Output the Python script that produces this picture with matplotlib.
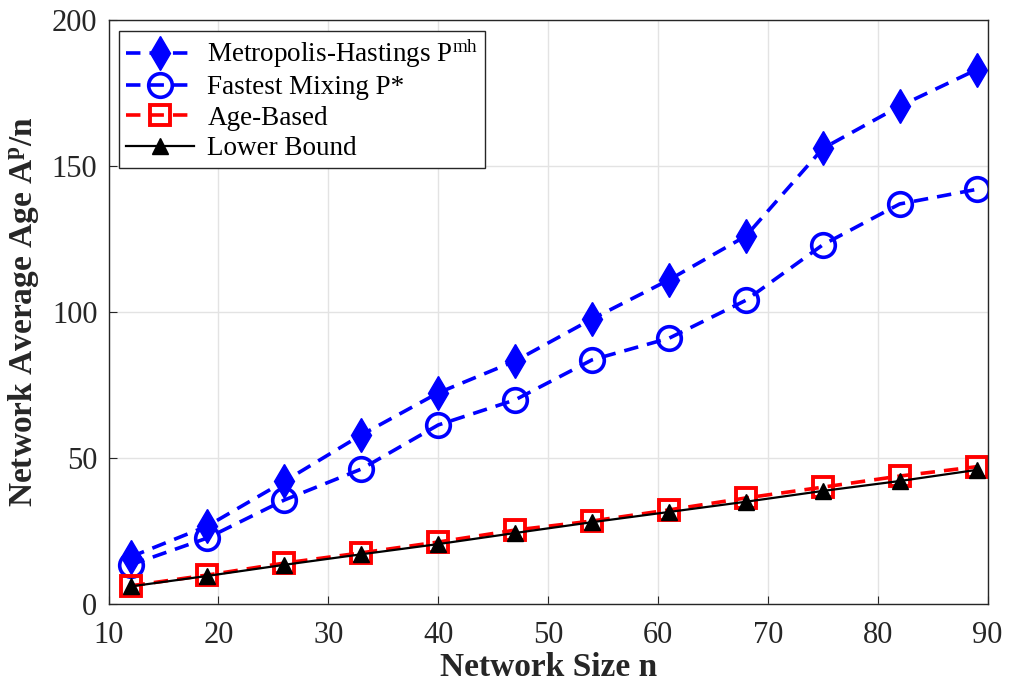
import matplotlib
matplotlib.use("Agg")
import matplotlib.pyplot as plt

plt.rcParams['font.family'] = ['Liberation Serif', 'DejaVu Serif']
plt.rcParams['mathtext.fontset'] = 'custom'
plt.rcParams['mathtext.rm'] = 'Liberation Serif'
plt.rcParams['mathtext.bf'] = 'Liberation Serif:bold'
plt.rcParams['mathtext.it'] = 'Liberation Serif:italic'

n = [12, 19, 26, 33, 40, 47, 54, 61, 68, 75, 82, 89]
metropolis = [16.1, 26.7, 42.0, 57.9, 72.3, 83.2, 97.6, 111.0, 126.0, 156.0, 170.5, 183.0]
fastest = [13.4, 22.6, 35.6, 46.2, 61.3, 69.9, 83.6, 91.0, 104.0, 123.0, 137.0, 142.0]
age_based = [6.2, 9.9, 14.0, 17.5, 21.2, 25.3, 28.4, 32.2, 36.3, 40.0, 43.8, 47.0]
lower_bound = [6.0, 9.6, 13.4, 17.0, 20.5, 24.3, 28.0, 31.5, 35.0, 38.7, 42.1, 45.9]

xticks = [10, 20, 30, 40, 50, 60, 70, 80, 90]
yticks = [0, 50, 100, 150, 200]

fig = plt.figure(figsize=(10.15, 6.91), dpi=100)
ax = fig.add_axes([0.107, 0.126, 0.866, 0.845])

ax.plot(n, metropolis, linestyle='--', color='#0000ff', lw=2.6, marker='d',
        markersize=17, markerfacecolor='#0000ff', markeredgecolor='#0000ff',
        dashes=(4, 2.5), label=r'Metropolis-Hastings P$^{\mathrm{mh}}$')
ax.plot(n, fastest, linestyle='--', color='#0000ff', lw=2.6, marker='o',
        markersize=17, markerfacecolor='none', markeredgecolor='#0000ff', markeredgewidth=2.6,
        dashes=(4, 2.5), label='Fastest Mixing P*')
ax.plot(n, age_based, linestyle='--', color='#ff0000', lw=2.6, marker='s',
        markersize=15, markerfacecolor='none', markeredgecolor='#ff0000', markeredgewidth=2.8,
        dashes=(4, 2.5), label='Age-Based')
ax.plot(n, lower_bound, linestyle='-', color='black', lw=1.6, marker='^',
        markersize=11, markerfacecolor='black', markeredgecolor='black',
        label='Lower Bound')

ax.set_xlim(10, 90)
ax.set_ylim(0, 200)
ax.set_xticks(xticks)
ax.set_yticks(yticks)
ax.tick_params(axis='both', labelsize=22, direction='in', length=6, color='#262626',
               labelcolor='#262626', top=False, right=False)
ax.tick_params(axis='x', pad=12)
ax.tick_params(axis='y', pad=8)
ax.grid(True, color='#e3e3e3', lw=1)
ax.set_axisbelow(True)
for s in ax.spines.values():
    s.set_color('#262626')
    s.set_linewidth(1.0)

ax.set_xlabel('Network Size n', fontsize=24, fontweight='bold', labelpad=2, color='#262626')
ax.set_ylabel(r'Network Average Age A$^{\mathbf{p}}$/n', fontsize=24, fontweight='bold',
              labelpad=8, color='#262626')

leg = ax.legend(loc='upper left', fontsize=19.5, frameon=True, fancybox=False,
                edgecolor='#262626', framealpha=1, borderpad=0.25, labelspacing=0.2,
                handlelength=2.5, handletextpad=0.5, borderaxespad=0.4)
leg.get_frame().set_linewidth(1.0)

fig.savefig('out.png', dpi=100)
